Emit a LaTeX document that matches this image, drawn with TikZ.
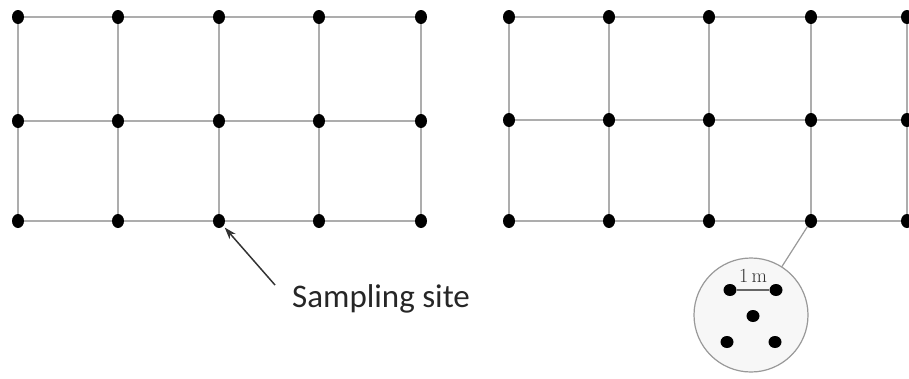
\documentclass[tikz,border=0pt]{standalone}
\usepackage{fontspec}
\newfontfamily\labelfont{Carlito}
\usetikzlibrary{shapes.geometric,arrows.meta}

\begin{document}
\begin{tikzpicture}[x=1pt,y=-1pt]
			\tikzset{>={Stealth[length=12pt,width=8pt]},
				site/.style={ellipse,fill=black,inner sep=0pt,minimum width=12pt,minimum height=14pt},
				subsite/.style={ellipse,fill=black,inner sep=0pt,minimum width=13pt,minimum height=12pt},
				gridline/.style={draw=black!32,line width=1.8pt}}
			\useasboundingbox (0,0) rectangle (909,378);

			\foreach \i/\x in {1/18,2/118,3/219,4/319,5/421}
				\foreach \j/\y in {1/17,2/121,3/221}
					\node[site] (L\i\j) at (\x,\y) {};
			\foreach \i/\x in {1/509,2/609,3/709,4/811,5/907}
				\foreach \j/\y in {1/17,2/120,3/221}
					\node[site] (R\i\j) at (\x,\y) {};

			\foreach \i in {1,...,5} {
				\draw[gridline] (L\i1) -- (L\i2) -- (L\i3);
				\draw[gridline] (R\i1) -- (R\i2) -- (R\i3);
			}
			\foreach \j in {1,2,3} {
				\draw[gridline] (L1\j) -- (L2\j) -- (L3\j) -- (L4\j) -- (L5\j);
				\draw[gridline] (R1\j) -- (R2\j) -- (R3\j) -- (R4\j) -- (R5\j);
			}

			% sampling site label
			\node[anchor=base west,inner sep=0pt,text=black!85] (label) at (292,307)
				{\labelfont\fontsize{33}{40}\selectfont Sampling site};
			\coordinate (tail) at (275,285);
			\draw[->,black!80,line width=1.5pt,shorten >=2pt] (tail) -- (L33);

			% enlarged site
			\node[circle,draw=black!40,fill=black!3,line width=1.2pt,minimum size=114pt,inner sep=0pt] (zoom) at (751,315) {};
			\draw[black!40,line width=1.2pt] (R43) -- (zoom);
			\node[subsite] (p1) at (730,290) {};
			\node[subsite] (p2) at (776,290) {};
			\node[subsite] (p3) at (753,316) {};
			\node[subsite] (p4) at (727,342) {};
			\node[subsite] (p5) at (775,342) {};
			\draw[black!60,line width=1.2pt] (p1) -- (p2);
			\node[text=black!80,inner sep=0pt,anchor=base] (scale) at (753,282) {\fontsize{20}{22}\selectfont 1\,m};
		\end{tikzpicture}
\end{document}
